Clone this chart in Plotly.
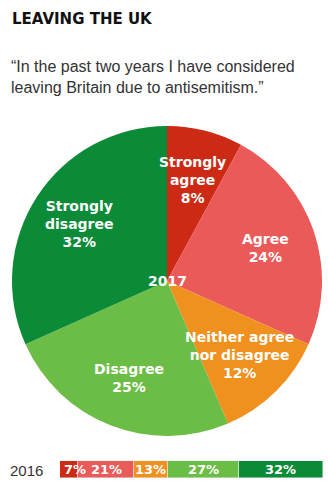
import math
import plotly.graph_objects as go

# 2017 survey responses (pie)
categories = ["Strongly agree", "Agree", "Neither agree nor disagree", "Disagree", "Strongly disagree"]
label_lines = ["Strongly<br>agree", "Agree", "Neither agree<br>nor disagree",
               "Disagree", "Strongly<br>disagree"]
values_2017 = [8, 24, 12, 25, 32]
# 2016 survey responses (stacked bar)
year_2016 = ["2016"]
values_2016 = [7, 21, 13, 27, 32]
colors = ["#CC2A14", "#E95A59", "#F0901F", "#6CBD46", "#0B8A37"]

W, H = 328, 487
# pie placement in pixels
cx, cy, r = 167, 281, 155

fig = go.Figure()

# 2016 stacked bar
for cat, v, c in zip(categories, values_2016, colors):
    fig.add_trace(go.Bar(
        x=[v], y=year_2016, orientation="h", name=cat,
        marker=dict(color=c),
        showlegend=False,
    ))

fig.add_trace(go.Pie(
    labels=categories,
    values=values_2017,
    marker=dict(colors=colors, line=dict(width=0)),
    sort=False,
    direction="clockwise",
    rotation=0,
    textinfo="none",
    hoverinfo="label+value",
    showlegend=False,
    domain=dict(x=[(cx - r) / W, (cx + r) / W],
                y=[(H - cy - r) / H, (H - cy + r) / H]),
))

annotations = []
label_font = dict(family="DejaVu Sans", size=14, color="white", weight="bold")

# slice labels at 2/3 of the radius along each slice's mid-angle
total = sum(values_2017)
cum = 0
for lab, v in zip(label_lines, values_2017):
    mid = (cum + v / 2) / total * 2 * math.pi
    cum += v
    px = cx + 0.67 * r * math.sin(mid)
    py = cy - 0.67 * r * math.cos(mid)
    annotations.append(dict(
        x=px / W, y=1 - py / H, xref="paper", yref="paper",
        text=f"{lab}<br>{v}%", showarrow=False, align="center",
        font=label_font, xanchor="center", yanchor="middle",
    ))

annotations.append(dict(x=cx / W, y=1 - cy / H, xref="paper", yref="paper",
                        text="2017", showarrow=False, font=label_font,
                        xanchor="center", yanchor="middle"))

cum = 0
for i, v in enumerate(values_2016):
    annotations.append(dict(
        x=cum + v / 2, y=0, xref="x", yref="y",
        text=f"{v}%", showarrow=False,
        font=dict(family="DejaVu Sans", size=13, color="white", weight="bold"),
        xanchor="center", yanchor="middle",
        xshift=6 if i == 0 else 0,
    ))
    cum += v

annotations.append(dict(x=8 / W, y=1 - 470 / H, xref="paper", yref="paper",
                        text="2016", showarrow=False, xanchor="left", yanchor="middle",
                        font=dict(family="Liberation Sans", size=15, color="#333333")))

# heading and quote
annotations.append(dict(x=10 / W, y=1 - 19 / H, xref="paper", yref="paper",
                        text="LEAVING THE UK", showarrow=False, xanchor="left", yanchor="middle",
                        font=dict(family="DejaVu Sans", size=15, color="#111111", weight="bold")))
annotations.append(dict(x=9 / W, y=1 - 67 / H, xref="paper", yref="paper",
                        text="“In the past two years I have considered", showarrow=False,
                        xanchor="left", yanchor="middle",
                        font=dict(family="Liberation Sans", size=16, color="#333333")))
annotations.append(dict(x=9 / W, y=1 - 87 / H, xref="paper", yref="paper",
                        text="leaving Britain due to antisemitism.”", showarrow=False,
                        xanchor="left", yanchor="middle",
                        font=dict(family="Liberation Sans", size=16, color="#333333")))

fig.update_layout(
    width=W, height=H,
    margin=dict(l=0, r=0, t=0, b=0),
    paper_bgcolor="white", plot_bgcolor="white",
    barmode="stack", bargap=0,
    xaxis=dict(domain=[60 / W, 323 / W], range=[0, sum(values_2016)], anchor="y",
               showgrid=False, zeroline=False, showticklabels=False, showline=False),
    yaxis=dict(domain=[(H - 478) / H, (H - 460) / H], anchor="x",
               showgrid=False, zeroline=False, showticklabels=False, showline=False),
    annotations=annotations,
)

fig.write_html("out.html")
